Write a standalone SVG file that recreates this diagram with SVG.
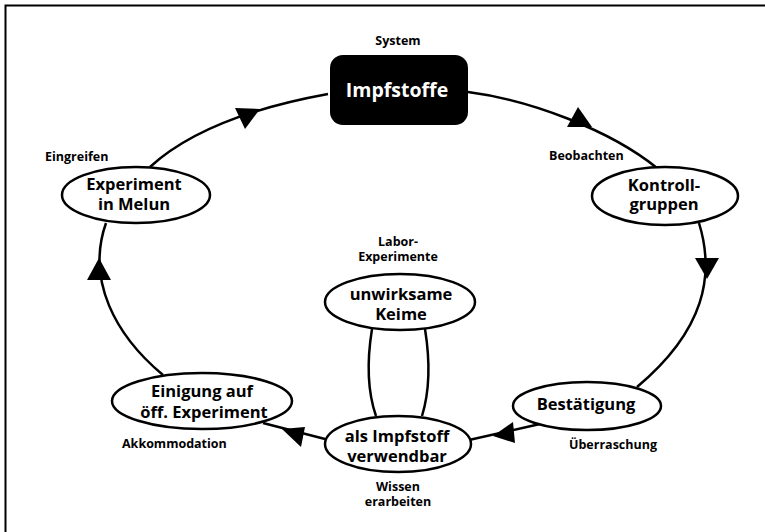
<svg xmlns="http://www.w3.org/2000/svg" width="765" height="532" viewBox="0 0 765 532">
<style>
.n{fill:#fff;stroke:#000;stroke-width:2.5}
.t{font-family:"Open Sans","Liberation Sans",sans-serif;font-weight:700;font-size:16.5px;fill:#000;text-anchor:middle}
.l{font-family:"Open Sans","Liberation Sans",sans-serif;font-weight:700;font-size:12.5px;fill:#000}
.c{fill:none;stroke:#000;stroke-width:2.5}
.a{fill:#000;stroke:none}
</style>
<rect x="0" y="0" width="765" height="532" fill="#fff"/>
<rect x="5.5" y="5.5" width="800" height="600" fill="none" stroke="#000" stroke-width="2"/>
<g id="connectors">
<path class="c" d="M468,92 C530,100 610,130 657,168"/>
<path class="c" d="M699,223 C715,275 705,330 637,387"/>
<path class="c" d="M540,424 L469,440"/>
<path class="c" d="M325,439 L263,423"/>
<path class="c" d="M163,375 C115,335 86,280 106,223"/>
<path class="c" d="M150,167 C185,135 240,110 328,94"/>
<path class="c" d="M372,329 C367,360 367,390 376,416"/>
<path class="c" d="M425,329 C430,360 430,390 422,416"/>
<polygon class="a" points="578,107 567,127 592,127"/>
<polygon class="a" points="695,258 719,258 707,279"/>
<polygon class="a" points="493,436 513,422 515,443"/>
<polygon class="a" points="282,429 305,427 301,447"/>
<polygon class="a" points="99,258 87,280 111,280"/>
<polygon class="a" points="235,108 260,109 245,129"/>
</g>
<g id="impfstoffe">
<text class="l" x="398" y="45" text-anchor="middle">System</text>
<rect x="330" y="55" width="138" height="70" rx="13" fill="#000"/>
<text class="t" x="397" y="97" style="fill:#fff;font-size:19.5px">Impfstoffe</text>
</g>
<g id="kontrollgruppen">
<text class="l" x="549" y="160">Beobachten</text>
<ellipse class="n" cx="665" cy="196" rx="73" ry="29"/>
<text class="t" x="664" y="191">Kontroll-</text>
<text class="t" x="664" y="210">gruppen</text>
</g>
<g id="bestaetigung">
<ellipse class="n" cx="587" cy="406" rx="74" ry="24"/>
<text class="t" x="586" y="410">Bestätigung</text>
<text class="l" x="569" y="449">Überraschung</text>
</g>
<g id="als-impfstoff">
<ellipse class="n" cx="398" cy="444" rx="73" ry="28"/>
<text class="t" x="397" y="442">als Impfstoff</text>
<text class="t" x="397" y="462">verwendbar</text>
<text class="l" x="398" y="491" text-anchor="middle">Wissen</text>
<text class="l" x="398" y="506" text-anchor="middle">erarbeiten</text>
</g>
<g id="unwirksame-keime">
<text class="l" x="398" y="246" text-anchor="middle">Labor-</text>
<text class="l" x="398" y="261" text-anchor="middle">Experimente</text>
<ellipse class="n" cx="400" cy="302" rx="75" ry="28"/>
<text class="t" x="401" y="300">unwirksame</text>
<text class="t" x="401" y="320">Keime</text>
</g>
<g id="einigung">
<ellipse class="n" cx="202" cy="401" rx="90" ry="28"/>
<text class="t" x="202" y="397">Einigung auf</text>
<text class="t" x="204" y="418">öff. Experiment</text>
<text class="l" x="122" y="448">Akkommodation</text>
</g>
<g id="experiment-melun">
<text class="l" x="45" y="161">Eingreifen</text>
<ellipse class="n" cx="136" cy="195" rx="74" ry="28"/>
<text class="t" x="134" y="190">Experiment</text>
<text class="t" x="134" y="210">in Melun</text>
</g>
</svg>
